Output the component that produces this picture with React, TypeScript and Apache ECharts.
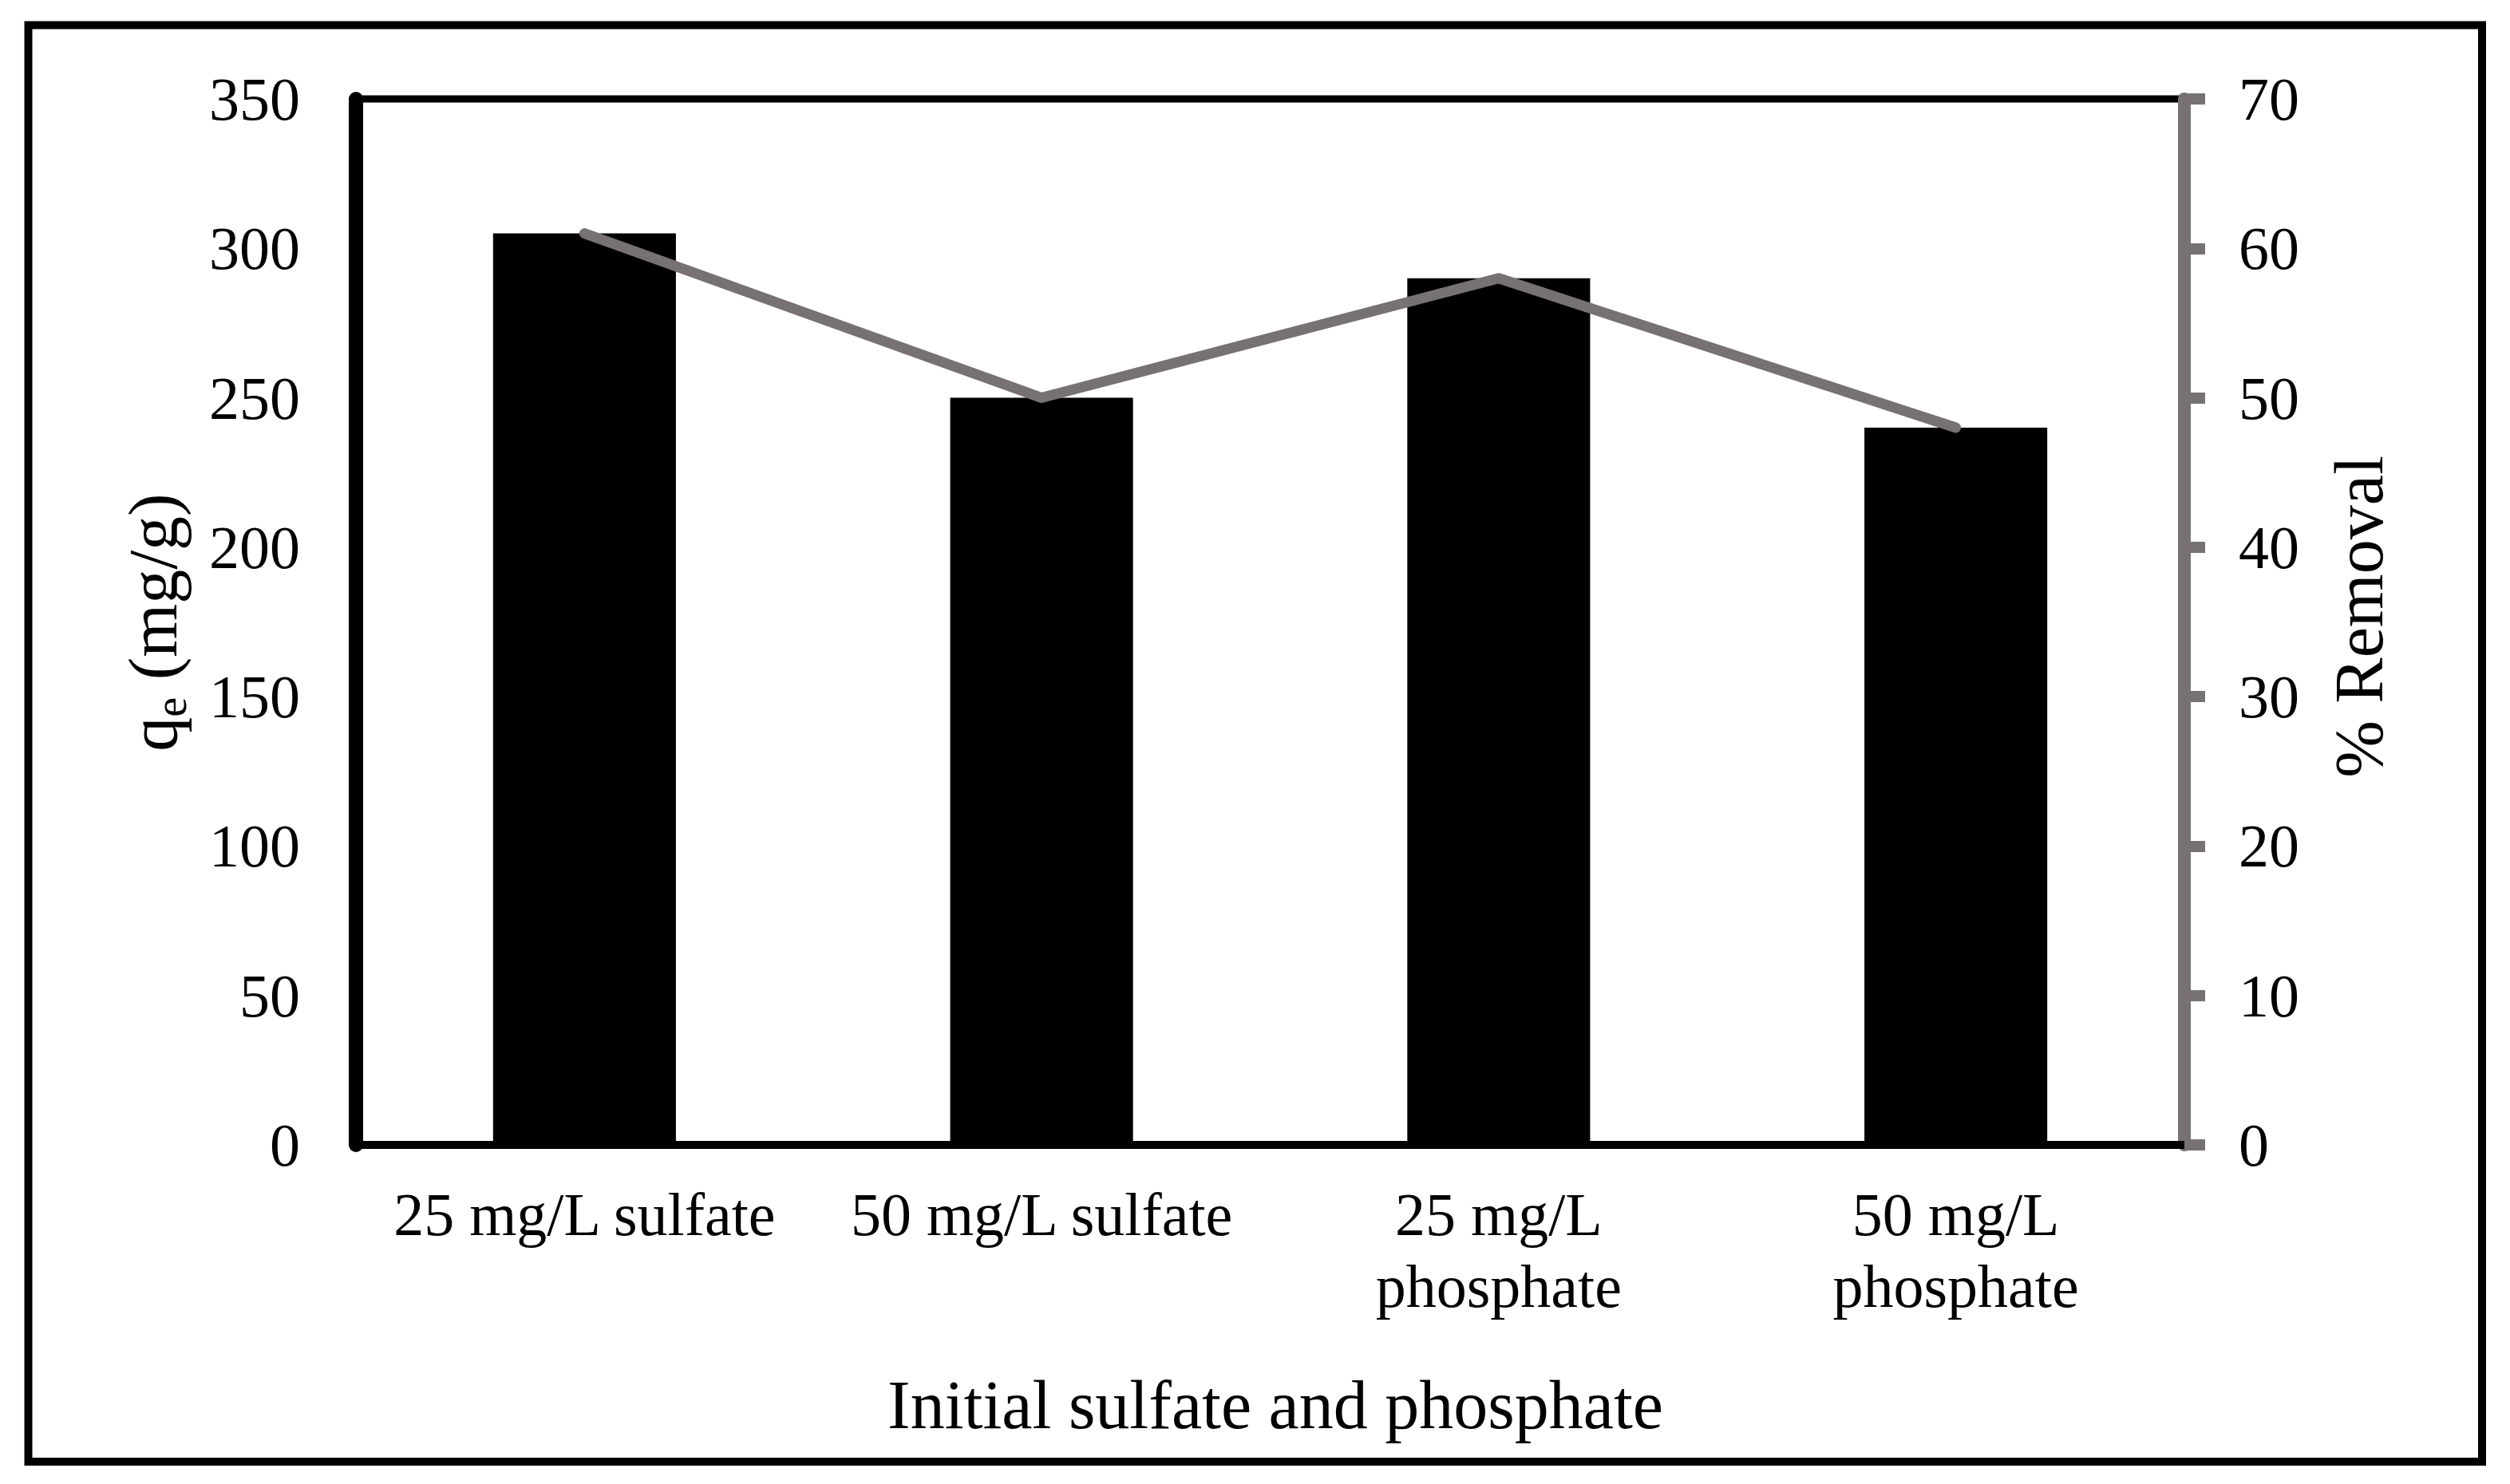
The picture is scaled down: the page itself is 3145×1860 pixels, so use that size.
import React, { useEffect, useRef } from "react";
import * as echarts from "echarts";

const categories = [
  "25 mg/L sulfate",
  "50 mg/L sulfate",
  "25 mg/L\nphosphate",
  "50 mg/L\nphosphate",
];
const qeValues = [305, 250, 290, 240];
const removalValues = [61, 50, 58, 48];
const leftAxisRange = { min: 0, max: 350, interval: 50 };
const rightAxisRange = { min: 0, max: 70, interval: 10 };
const xTitle = "Initial sulfate and phosphate";
const rightTitle = "% Removal";

const FONT = '"Liberation Serif", "Times New Roman", serif';
const GRAY = "#777171";

export default function App() {
  const ref = useRef<HTMLDivElement>(null);

  useEffect(() => {
    if (!ref.current) return;
    const chart = echarts.init(ref.current, null, { renderer: "svg" });
    const option: any = {
      animation: false,
      backgroundColor: "#ffffff",
      grid: {
        left: 446,
        right: 3145 - 2737,
        top: 124,
        bottom: 1860 - 1435,
        containLabel: false,
        outerBoundsMode: "none",
        show: true,
        borderColor: "#000000",
        borderWidth: 9,
        backgroundColor: "transparent",
      },
      xAxis: {
        type: "category",
        data: categories,
        axisLine: { show: true, lineStyle: { color: "#000000", width: 10 } },
        axisTick: { show: false },
        axisLabel: {
          interval: 0,
          margin: 42,
          color: "#000000",
          fontFamily: FONT,
          fontSize: 76,
          lineHeight: 90,
        },
        splitLine: { show: false },
      },
      yAxis: [
        {
          type: "value",
          min: leftAxisRange.min,
          max: leftAxisRange.max,
          interval: leftAxisRange.interval,
          position: "left",
          axisLine: { show: true, lineStyle: { color: "#000000", width: 18 } },
          axisTick: { show: false },
          axisLabel: {
            margin: 70,
            color: "#000000",
            fontFamily: FONT,
            fontSize: 76,
          },
          splitLine: { show: false },
        },
        {
          type: "value",
          min: rightAxisRange.min,
          max: rightAxisRange.max,
          interval: rightAxisRange.interval,
          position: "right",
          axisLine: { show: true, lineStyle: { color: GRAY, width: 16 } },
          axisTick: {
            show: true,
            inside: false,
            length: 26,
            lineStyle: { color: GRAY, width: 14 },
          },
          axisLabel: {
            margin: 68,
            color: "#000000",
            fontFamily: FONT,
            fontSize: 76,
          },
          splitLine: { show: false },
        },
      ],
      series: [
        {
          type: "bar",
          data: qeValues,
          yAxisIndex: 0,
          barWidth: "40%",
          itemStyle: { color: "#000000" },
        },
        {
          type: "line",
          data: removalValues,
          yAxisIndex: 1,
          symbol: "none",
          lineStyle: { color: GRAY, width: 13, cap: "round", join: "round" },
          z: 5,
        },
      ],
      graphic: [
        {
          type: "rect",
          shape: { x: 35.5, y: 31.5, width: 3074.5, height: 1800.5 },
          style: { fill: "none", stroke: "#000000", lineWidth: 10 },
          z: 10,
        },
        {
          type: "text",
          x: 192,
          y: 780,
          rotation: Math.PI / 2,
          style: {
            text: "{a|q}{b|e}{a| (mg/g)}",
            rich: {
              a: { fontFamily: FONT, fontSize: 86, lineHeight: 100, fill: "#000000" },
              b: {
                fontFamily: FONT,
                fontSize: 56,
                lineHeight: 50,
                verticalAlign: "bottom",
                fill: "#000000",
              },
            },
            textAlign: "center",
            textVerticalAlign: "middle",
          },
        },
        {
          type: "text",
          x: 2956,
          y: 773,
          rotation: Math.PI / 2,
          style: {
            text: rightTitle,
            fontFamily: FONT,
            fontSize: 86,
            fill: "#000000",
            textAlign: "center",
            textVerticalAlign: "middle",
          },
        },
        {
          type: "text",
          x: 1598,
          y: 1761,
          style: {
            text: xTitle,
            fontFamily: FONT,
            fontSize: 86,
            fill: "#000000",
            textAlign: "center",
            textVerticalAlign: "middle",
          },
        },
      ],
    };
    chart.setOption(option);
    return () => {
      chart.dispose();
    };
  }, []);

  return (
    <div
      ref={ref}
      style={{
        position: "fixed",
        left: 0,
        top: 0,
        width: 3145,
        height: 1860,
        background: "#ffffff",
      }}
    />
  );
}
